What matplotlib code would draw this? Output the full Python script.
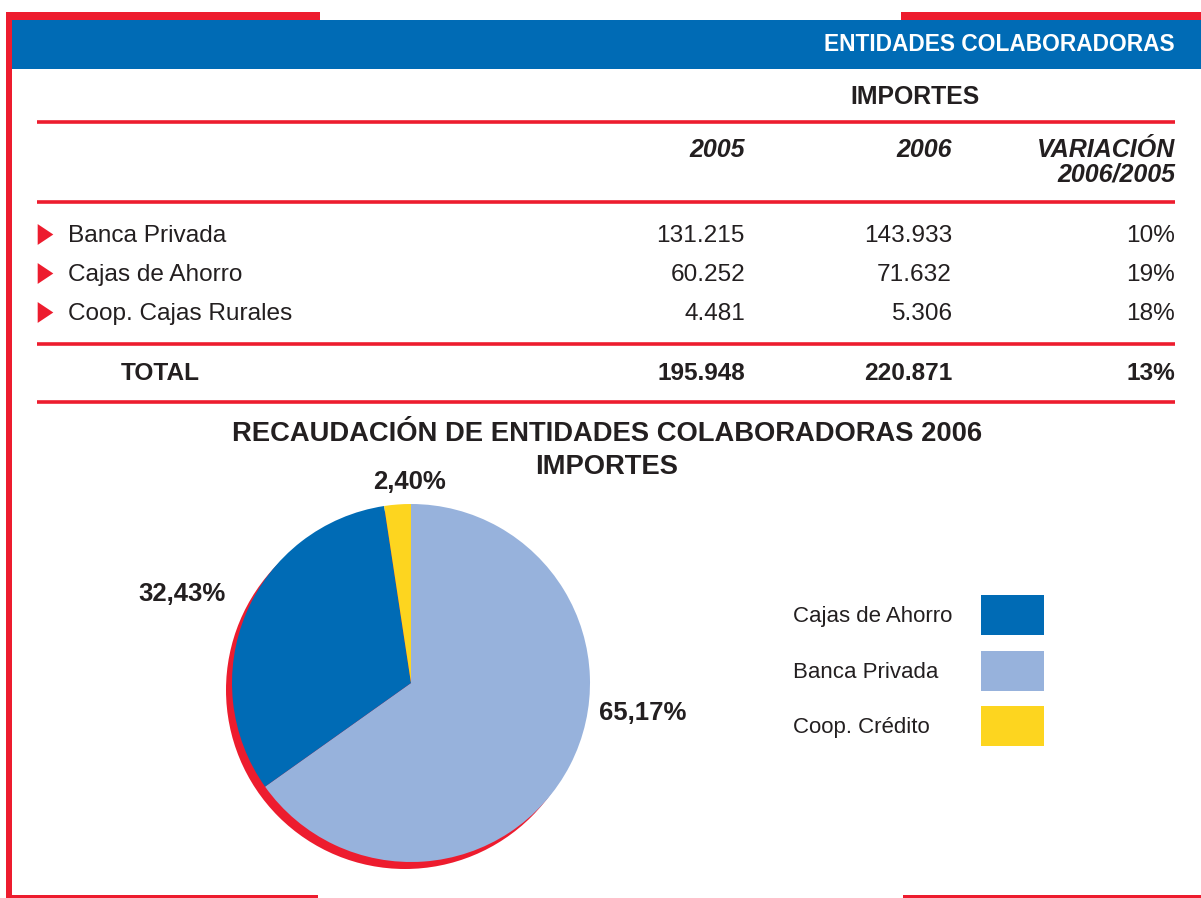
import numpy as np
import matplotlib.pyplot as plt
from matplotlib.patches import Rectangle, Circle

plt.rcParams['font.family'] = ['Liberation Sans', 'DejaVu Sans']

# datos de la tabla
entidades = ['Banca Privada', 'Cajas de Ahorro', 'Coop. Cajas Rurales']
importes_2005 = ['131.215', '60.252', '4.481']
importes_2006 = ['143.933', '71.632', '5.306']
variacion = ['10%', '19%', '18%']
total = ['195.948', '220.871', '13%']

# datos del pie (orden en sentido horario desde arriba)
pie_labels = ['Banca Privada', 'Cajas de Ahorro', 'Coop. Crédito']
pie_pct = [65.17, 32.43, 2.40]

RED = '#ED1C2E'
BLUE = '#006BB5'
LIGHT = '#97B2DC'
YELLOW = '#FDD51F'
INK = '#231F20'
pie_colors = [LIGHT, BLUE, YELLOW]

W, H = 1201, 898
fig = plt.figure(figsize=(W / 100, H / 100), dpi=100)
ax = fig.add_axes([0, 0, 1, 1])
ax.set_xlim(0, W)
ax.set_ylim(H, 0)
ax.axis('off')

# marco rojo y banda azul
ax.add_patch(Rectangle((6, 12), 314, 8, color=RED, lw=0))
ax.add_patch(Rectangle((901, 12), 300, 8, color=RED, lw=0))
ax.add_patch(Rectangle((6, 12), 6, 886, color=RED, lw=0))
ax.add_patch(Rectangle((6, 895), 312, 3, color=RED, lw=0))
ax.add_patch(Rectangle((903, 895), 298, 3, color=RED, lw=0))
ax.add_patch(Rectangle((12, 20), 1189, 49, color=BLUE, lw=0))
ax.text(1175, 51, 'ENTIDADES COLABORADORAS', color='white', fontsize=16.4,
        fontweight='bold', ha='right', va='baseline')

# cabecera de la tabla
ax.text(915, 104, 'IMPORTES', color=INK, fontsize=17.8, fontweight='bold',
        ha='center', va='baseline')
for y in [121.5, 202, 344, 401.5]:
    ax.plot([37, 1175], [y, y], color=RED, lw=2.6, solid_capstyle='butt')

cols = [745, 952, 1175]
for x, t in zip(cols, ['2005', '2006', 'VARIACIÓN']):
    ax.text(x, 157, t, color=INK, fontsize=18, fontweight='bold',
            style='italic', ha='right', va='baseline')
ax.text(1175, 181, '2006/2005', color=INK, fontsize=18, fontweight='bold',
        style='italic', ha='right', va='baseline')

# filas
tri = [(-0.75, 1), (-0.75, -1), (0.75, 0)]
baselines = [242, 281, 320]
for i, name in enumerate(entidades):
    yb = baselines[i]
    ax.plot(45, yb - 8.5, marker=tri, markersize=15, color=RED, mec='none')
    ax.text(68, yb, name, color=INK, fontsize=17.6, ha='left', va='baseline')
    for x, v in zip(cols, [importes_2005[i], importes_2006[i], variacion[i]]):
        ax.text(x, yb, v, color=INK, fontsize=17.6, ha='right', va='baseline')

ax.text(121, 380, 'TOTAL', color=INK, fontsize=17.6, fontweight='bold',
        ha='left', va='baseline')
for x, v in zip(cols, total):
    ax.text(x, 380, v, color=INK, fontsize=17.6, fontweight='bold',
            ha='right', va='baseline')

# titulo del grafico
ax.text(607, 441, 'RECAUDACIÓN DE ENTIDADES COLABORADORAS 2006', color=INK,
        fontsize=19.7, fontweight='bold', ha='center', va='baseline')
ax.text(607, 474, 'IMPORTES', color=INK, fontsize=19.7, fontweight='bold',
        ha='center', va='baseline')

# pie
cx, cy, r = 411, 683, 179
half = 210
pax = fig.add_axes([(cx - half) / W, (H - cy - half) / H, 2 * half / W, 2 * half / H])
lim = half / r
pax.add_patch(Circle((-6 / r, -7 / r), 1, color=RED, lw=0, zorder=0))
pax.pie(pie_pct, colors=pie_colors, startangle=90, counterclock=False,
        wedgeprops=dict(lw=0))
pax.set_xlim(-lim, lim)
pax.set_ylim(-lim, lim)
pax.set_aspect('equal')
pax.axis('off')

pct_txt = [f'{p:.2f}%'.replace('.', ',') for p in pie_pct]
ax.text(643, 720, pct_txt[0], color=INK, fontsize=18.5, fontweight='bold',
        ha='center', va='baseline')
ax.text(182, 601, pct_txt[1], color=INK, fontsize=18.5, fontweight='bold',
        ha='center', va='baseline')
ax.text(409, 489, pct_txt[2], color=INK, fontsize=18.5, fontweight='bold',
        ha='center', va='baseline')

# leyenda
leg_order = [1, 0, 2]
leg_y = [615, 671, 726]
for k, i in enumerate(leg_order):
    ax.text(793, leg_y[k] + 7, pie_labels[i], color=INK, fontsize=16,
            ha='left', va='baseline')
    ax.add_patch(Rectangle((981, leg_y[k] - 20), 63, 40, color=pie_colors[i], lw=0))

fig.savefig('out.png', dpi=100)
